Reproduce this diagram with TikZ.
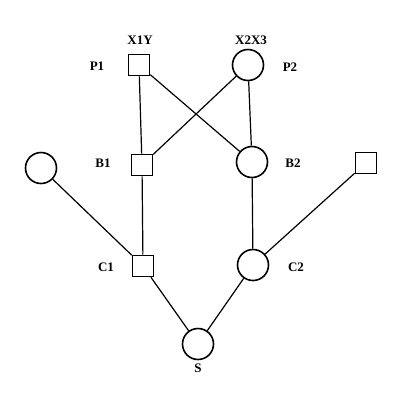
\documentclass[tikz,border=0pt]{standalone}
\usepackage{fontspec}
\setmainfont{Liberation Serif}
\begin{document}
\begin{tikzpicture}[x=1pt,y=-1pt,
  sq/.style={draw,line width=1.6pt,minimum size=21pt,inner sep=0pt},
  ci/.style={draw,line width=1.6pt,circle,minimum size=31pt,inner sep=0pt},
  lab/.style={font=\bfseries\fontsize{13}{13}\selectfont,inner sep=0pt},
  edge/.style={line width=1.2pt}]
\useasboundingbox (0,0) rectangle (401,400);
\fill[white] (0,0) rectangle (401,400);
\node[sq] (P1) at (139,65) {};
\node[ci] (P2) at (248,65) {};
\node[sq] (B1) at (142,165) {};
\node[ci] (B2) at (252,162) {};
\node[ci] (L) at (41,168) {};
\node[sq] (R) at (366,163) {};
\node[sq] (C1) at (143,266) {};
\node[ci] (C2) at (253,265) {};
\node[ci] (S) at (198,344) {};
\node[lab] (tX1Y) at (140,40) {X1Y};
\node[lab] (tX2X3) at (251,40) {X2X3};
\node[lab] (tP1) at (97,66) {P1};
\node[lab] (tP2) at (290,67) {P2};
\node[lab] (tB1) at (103,163) {B1};
\node[lab] (tB2) at (293,163) {B2};
\node[lab] (tC1) at (106,267) {C1};
\node[lab] (tC2) at (296,267) {C2};
\node[lab] (tS) at (198,368) {S};
\draw[edge] (P1) -- (B1);
\draw[edge] (P1) -- (B2);
\draw[edge] (P2) -- (B1);
\draw[edge] (P2) -- (B2);
\draw[edge] (B1) -- (C1);
\draw[edge] (B2) -- (C2);
\draw[edge] (L) -- (C1);
\draw[edge] (R) -- (C2);
\draw[edge] (C1) -- (S);
\draw[edge] (C2) -- (S);
\end{tikzpicture}
\end{document}
